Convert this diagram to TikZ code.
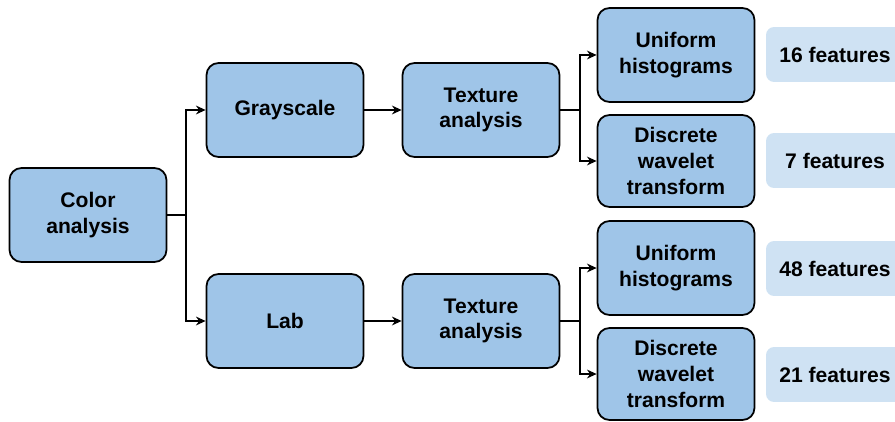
\documentclass[tikz,border=0pt]{standalone}
\usepackage{fontspec}
\setmainfont{Liberation Sans}
\usetikzlibrary{arrows.meta}

\begin{document}
\begin{tikzpicture}[x=0.02cm, y=-0.02cm,
	box/.style={draw, line width=1pt, rounded corners=0.24cm, fill=boxblue, minimum width=3.14cm, minimum height=1.88cm, align=center, font=\bfseries\fontsize{12}{14.7}\selectfont},
	feat/.style={rounded corners=0.16cm, fill=featblue, minimum width=2.76cm, minimum height=1.1cm, align=center, font=\bfseries\fontsize{12}{14.7}\selectfont},
	link/.style={line width=0.9pt},
	arr/.style={link, -{Stealth[length=5.5pt, width=5pt]}}]
	\definecolor{boxblue}{HTML}{9FC5E8}
	\definecolor{featblue}{HTML}{CFE2F3}
	\useasboundingbox (0,0) rectangle (895,422);
	\clip (0,0) rectangle (895,422);

	\node[box] (color) at (88, 215) {Color\\analysis};

	% grayscale branch
	\node[box] (gray) at (285, 110) {Grayscale};
	\node[box] (texa) at (481, 110) {Texture\\analysis};
	\node[box] (unia) at (676, 55) {Uniform\\histograms};
	\node[box, minimum height=1.84cm] (dwta) at (676, 161) {Discrete\\wavelet\\transform};
	\node[feat] (f16) at (835, 54.5) {16 features};
	\node[feat] (f7) at (835, 160.5) {7 features};

	% lab branch
	\node[box] (lab) at (285, 321) {Lab};
	\node[box] (texb) at (481, 321) {Texture\\analysis};
	\node[box] (unib) at (676, 268) {Uniform\\histograms};
	\node[box, minimum height=1.84cm] (dwtb) at (676, 374) {Discrete\\wavelet\\transform};
	\node[feat] (f48) at (835, 268.5) {48 features};
	\node[feat] (f21) at (835, 374.5) {21 features};

	% connectors
	\coordinate (cj) at (186, 215);
	\draw[link] (color.east) -- (cj);
	\draw[arr] (cj) |- (gray.west);
	\draw[arr] (cj) |- (lab.west);

	\draw[arr] (gray) -- (texa);
	\draw[arr] (lab) -- (texb);

	\coordinate (ja) at (580, 110);
	\draw[link] (texa.east) -- (ja);
	\draw[arr] (ja) |- (unia.west);
	\draw[arr] (ja) |- (dwta.west);

	\coordinate (jb) at (580, 321);
	\draw[link] (texb.east) -- (jb);
	\draw[arr] (jb) |- (unib.west);
	\draw[arr] (jb) |- (dwtb.west);
\end{tikzpicture}
\end{document}
